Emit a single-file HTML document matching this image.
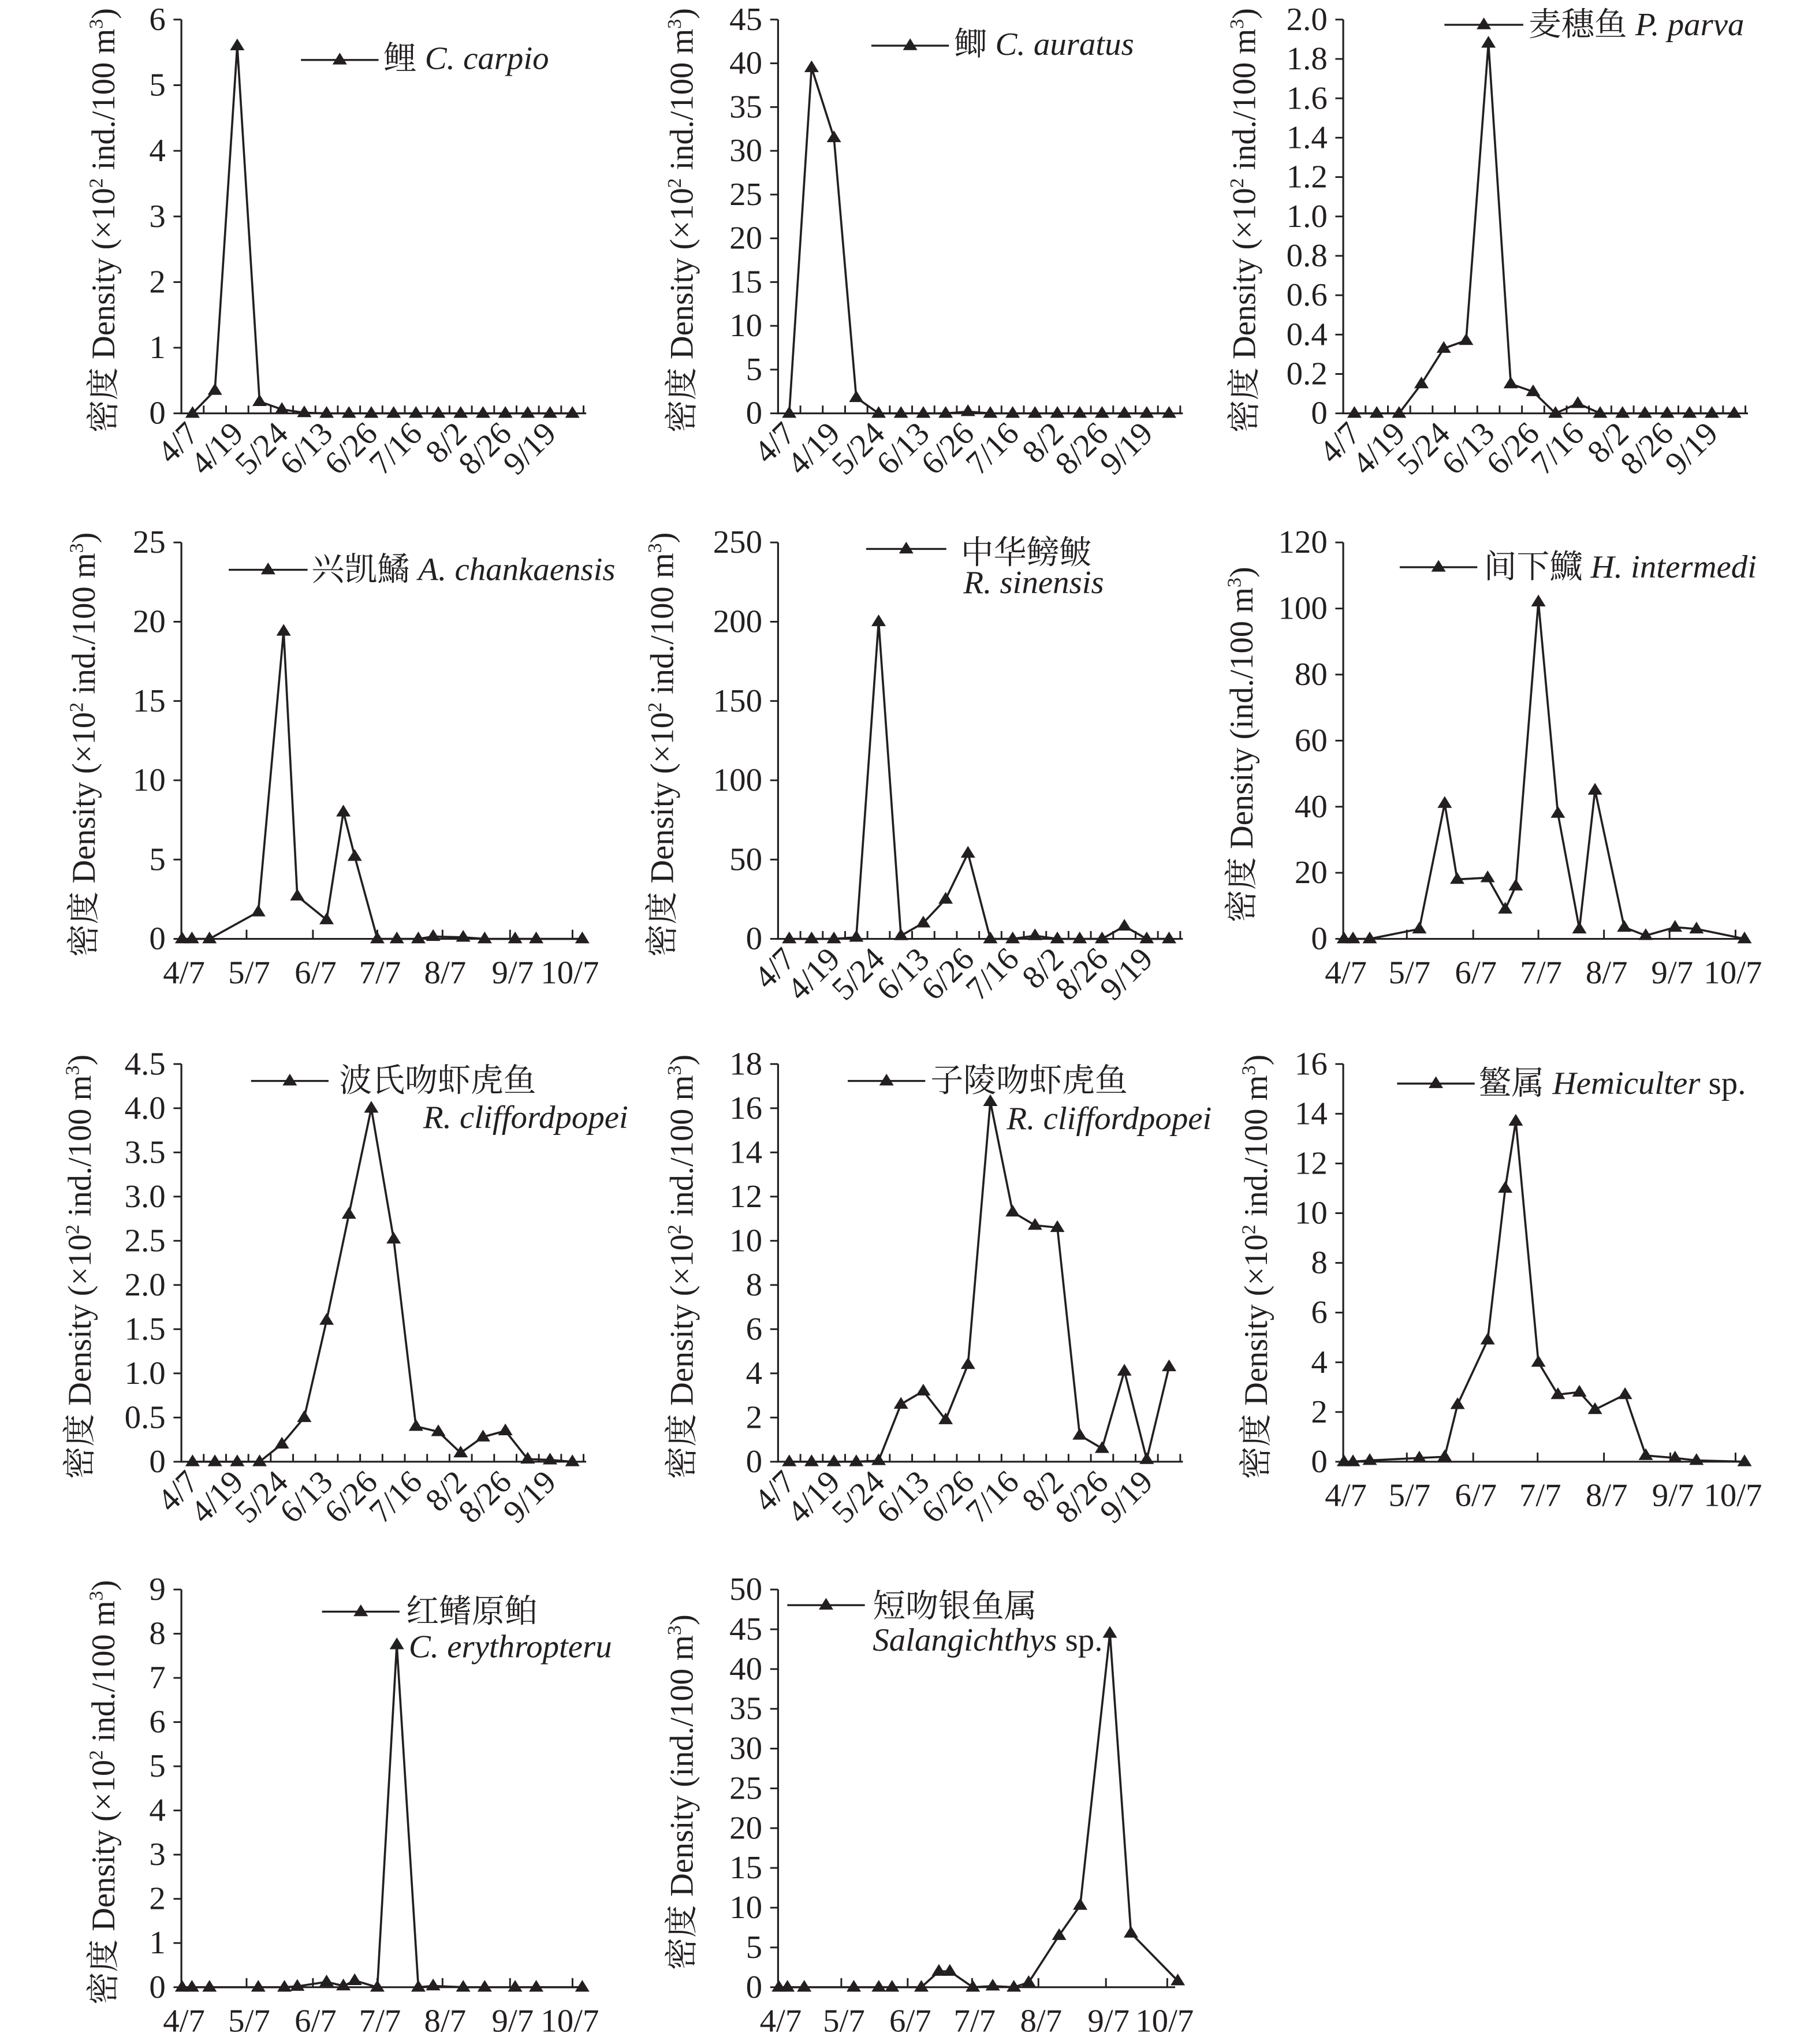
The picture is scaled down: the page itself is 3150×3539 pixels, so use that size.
<!DOCTYPE html>
<html><head><meta charset="utf-8">
<style>
html,body{margin:0;padding:0;background:#fff;}
svg{display:block;}
text{font-family:"Liberation Serif","Noto Serif CJK SC","Noto Sans CJK SC",serif;fill:#231f20;}
</style></head>
<body>
<svg xmlns="http://www.w3.org/2000/svg" width="3150" height="3539" viewBox="0 0 1384 1555" preserveAspectRatio="none">
<rect width="1384" height="1555" fill="#fff"/>
<g id="s" transform="scale(1,0.992)"></g>
</svg>
<script>
var NS="http://www.w3.org/2000/svg",S=document.getElementById('s');
function el(t,a,txt){var e=document.createElementNS(NS,t);for(var k in a)e.setAttribute(k,a[k]);if(txt!=null)e.textContent=txt;S.appendChild(e);return e;}
function tri(x,y){var h=9,w=5.5;return (x)+','+(y-h*0.62)+' '+(x-w)+','+(y+h*0.38)+' '+(x+w)+','+(y+h*0.38);}
var CATL=['4/7','4/19','5/24','6/13','6/26','7/16','8/2','8/26','9/19'];
var DATEL=['4/7','5/7','6/7','7/7','8/7','9/7','10/7'];
var FS=25;
var P=[
{ax:138,top:15,y0:317,max:6,step:1,dec:0,type:'cat',vals:[0,0.35,5.6,0.18,0.06,0.01,0,0,0,0,0,0,0,0,0,0,0,0],tx:87,full:1,
 leg:{x1:229,x2:288,y:46,tx:292,ty:53,cn:'鲤',la:'C. carpio'}},
{ax:592,top:15,y0:317,max:45,step:5,dec:0,type:'cat',vals:[0,39.5,31.5,1.8,0,0,0,0,0.2,0,0,0,0,0,0,0,0,0],tx:527,full:1,
 leg:{x1:663,x2:722,y:35,tx:726,ty:42,cn:'鲫',la:'C. auratus'}},
{ax:1022,top:15,y0:317,max:2,step:0.2,dec:1,type:'cat',vals:[0,0,0,0.15,0.33,0.37,1.88,0.15,0.11,0,0.05,0,0,0,0,0,0,0],tx:955,full:1,
 leg:{x1:1099,x2:1159,y:19,tx:1163,ty:27,cn:'麦穗鱼',la:'P. parva'}},
{ax:138,top:416,y0:720,max:25,step:5,dec:0,type:'date',zax:463,zt:[630,800,965,1132,1305,1465],
 pts:[[465,0],[490,0],[535,0],[660,1.7],[725,19.4],[760,2.7],[835,1.2],[878,8],[907,5.2],[965,0],[1015,0],[1070,0],[1108,0.15],[1185,0.1],[1240,0],[1318,0],[1372,0],[1490,0]],tx:72,full:1,
 leg:{x1:174,x2:234,y:437,tx:237,ty:445,cn:'兴凯鱊',la:'A. chankaensis'}},
{ax:592,top:416,y0:720,max:250,step:50,dec:0,type:'cat',vals:[0,0,0,1,200,2,10,25,54,0,0,2,0,0,0,8,0,0],tx:512,full:1,
 leg:{x1:659,x2:720,y:421,tx:731,ty:432,cn:'中华鳑鲏',la2:'R. sinensis',l2x:733,l2y:455}},
{ax:1022,top:416,y0:720,max:120,step:20,dec:0,type:'date',zax:340,zt:[503,673,840,1008,1176,1345],
 pts:[[342,0],[365,0],[408,0],[535,3],[600,41],[632,18],[710,18.5],[755,9],[782,16],[840,102],[890,38],[945,3],[985,45],[1060,3.5],[1115,1],[1190,3.5],[1245,3],[1368,0]],tx:953,full:0,
 leg:{x1:1065,x2:1124,y:435,tx:1129,ty:443,cn:'间下鱵',la:'H. intermedi'}},
{ax:138,top:816,y0:1121,max:4.5,step:0.5,dec:1,type:'cat',vals:[0,0,0,0,0.2,0.5,1.6,2.8,4.0,2.52,0.4,0.34,0.1,0.28,0.35,0.03,0.02,0],tx:69,full:1,
 leg:{x1:191,x2:250,y:829,tx:258,ty:837,cn:'波氏吻虾虎鱼',la2:'R. cliffordpopei',l2x:322,l2y:865}},
{ax:592,top:816,y0:1121,max:18,step:2,dec:0,type:'cat',vals:[0,0,0,0,0.05,2.6,3.2,1.9,4.4,16.3,11.3,10.7,10.6,1.2,0.6,4.1,0.1,4.3],tx:527,full:1,
 leg:{x1:645,x2:704,y:829,tx:708,ty:837,cn:'子陵吻虾虎鱼',la2:'R. cliffordpopei',l2x:766,l2y:866}},
{ax:1022,top:816,y0:1121,max:16,step:2,dec:0,type:'date',zax:340,zt:[503,673,838,1008,1178,1345],
 pts:[[342,0],[365,0],[408,0.05],[535,0.15],[600,0.2],[633,2.3],[710,4.9],[755,11],[782,13.7],[840,4],[890,2.7],[945,2.8],[985,2.1],[1062,2.7],[1115,0.25],[1190,0.15],[1245,0.05],[1368,0]],tx:964,full:1,
 leg:{x1:1063,x2:1122,y:831,tx:1125,ty:839,cn:'鳘属',la:'Hemiculter',sp:1}},
{ax:138,top:1219,y0:1524,max:9,step:1,dec:0,type:'date',zax:463,zt:[630,800,965,1132,1305,1465],
 pts:[[465,0],[490,0],[535,0],[660,0],[727,0],[760,0.02],[835,0.12],[878,0.03],[907,0.15],[965,0],[1015,7.75],[1070,0],[1108,0.03],[1185,0],[1240,0],[1318,0],[1372,0],[1490,0]],tx:87,full:1,
 leg:{x1:245,x2:304,y:1236,tx:309,ty:1244,cn:'红鳍原鲌',la2:'C. erythropteru',l2x:311,l2y:1271}},
{ax:592,top:1219,y0:1524,max:50,step:5,dec:0,type:'date',zax:428,zt:[590,760,925,1095,1268,1425],
 pts:[[430,0],[452,0],[495,0],[622,0],[686,0],[720,0],[795,0],[840,2],[868,2],[927,0],[978,0.15],[1032,0],[1070,0.6],[1148,6.5],[1202,10.3],[1278,44.5],[1332,6.8],[1452,0.8]],tx:527,full:0,
 leg:{x1:599,x2:658,y:1231,tx:664,ty:1240,cn:'短吻银鱼属',la2:'Salangichthys',l2x:664,l2y:1266,sp2:1}}
];
var K=0.297;
P.forEach(function(p){
  var H=p.y0-p.top, W=306;
  function Y(v){return p.y0-v/p.max*H;}
  el('line',{x1:p.ax,y1:p.top,x2:p.ax,y2:p.y0,stroke:'#231f20','stroke-width':1.4});
  var xend = p.type=='cat'? p.ax+W+2 : p.ax+(p.zt[5]-p.zax)*K+6;
  el('line',{x1:p.ax-1,y1:p.y0,x2:xend,y2:p.y0,stroke:'#231f20','stroke-width':1.4});
  var n=Math.round(p.max/p.step);
  for(var i=0;i<=n;i++){var v=i*p.step,y=Y(v);
    el('line',{x1:p.ax-6,y1:y,x2:p.ax,y2:y,stroke:'#231f20','stroke-width':1.3});
    el('text',{x:p.ax-12,y:y+8,'text-anchor':'end','font-size':FS},i==0?'0':v.toFixed(p.dec));
  }
  var pts=[];
  if(p.type=='cat'){
    for(var k=1;k<=18;k++){var x=p.ax+17*k;el('line',{x1:x,y1:p.y0-6,x2:x,y2:p.y0,stroke:'#231f20','stroke-width':1.3});}
    p.vals.forEach(function(v,i){pts.push([p.ax+17*(i+0.5),Y(v)]);});
    CATL.forEach(function(l,j){var cx=p.ax+17*(2*j+0.5)+6,cy=p.y0+17;
      el('text',{x:cx,y:cy,'text-anchor':'end','font-size':FS,transform:'rotate(-45 '+cx+' '+cy+')'},l);});
  } else {
    p.zt.forEach(function(z){var x=p.ax+(z-p.zax)*K;el('line',{x1:x,y1:p.y0-7,x2:x,y2:p.y0,stroke:'#231f20','stroke-width':1.3});});
    var xs=[p.ax].concat(p.zt.map(function(z){return p.ax+(z-p.zax)*K;}));
    DATEL.forEach(function(l,j){el('text',{x:xs[j]+(j==6?-2:2),y:p.y0+34,'text-anchor':'middle','font-size':FS},l);});
    p.pts.forEach(function(q){pts.push([p.ax+(q[0]-p.zax)*K,Y(q[1])]);});
  }
  el('polyline',{points:pts.map(function(q){return q[0].toFixed(1)+','+q[1].toFixed(1);}).join(' '),fill:'none',stroke:'#231f20','stroke-width':1.6,'stroke-linejoin':'miter'});
  pts.forEach(function(q){el('polygon',{points:tri(q[0],q[1]),fill:'#231f20'});});
  var cy=(p.top+p.y0)/2+3;
  var t=el('text',{x:p.tx,y:cy,'text-anchor':'middle','font-size':25,transform:'rotate(-90 '+p.tx+' '+cy+')'});
  if(p.full){
    t.innerHTML='密度 Density (×10<tspan font-size="15" dy="-9">2</tspan><tspan dy="9"> ind./100 m</tspan><tspan font-size="15" dy="-9">3</tspan><tspan dy="9">)</tspan>';
  } else {
    t.innerHTML='密度 Density (ind./100 m<tspan font-size="15" dy="-9">3</tspan><tspan dy="9">)</tspan>';
  }
  var g=p.leg;
  el('line',{x1:g.x1,y1:g.y,x2:g.x2,y2:g.y,stroke:'#231f20','stroke-width':1.5});
  el('polygon',{points:tri((g.x1+g.x2)/2,g.y),fill:'#231f20'});
  var lt=el('text',{x:g.tx,y:g.ty,'font-size':25});
  if(g.la){lt.innerHTML=g.cn+' <tspan font-style="italic">'+g.la+'</tspan>'+(g.sp?' sp.':'');}
  else lt.textContent=g.cn;
  if(g.la2){var l2=el('text',{x:g.l2x,y:g.l2y,'font-size':25});
    l2.innerHTML='<tspan font-style="italic">'+g.la2+'</tspan>'+(g.sp2?' sp.':'');}
});
</script>
</body></html>
